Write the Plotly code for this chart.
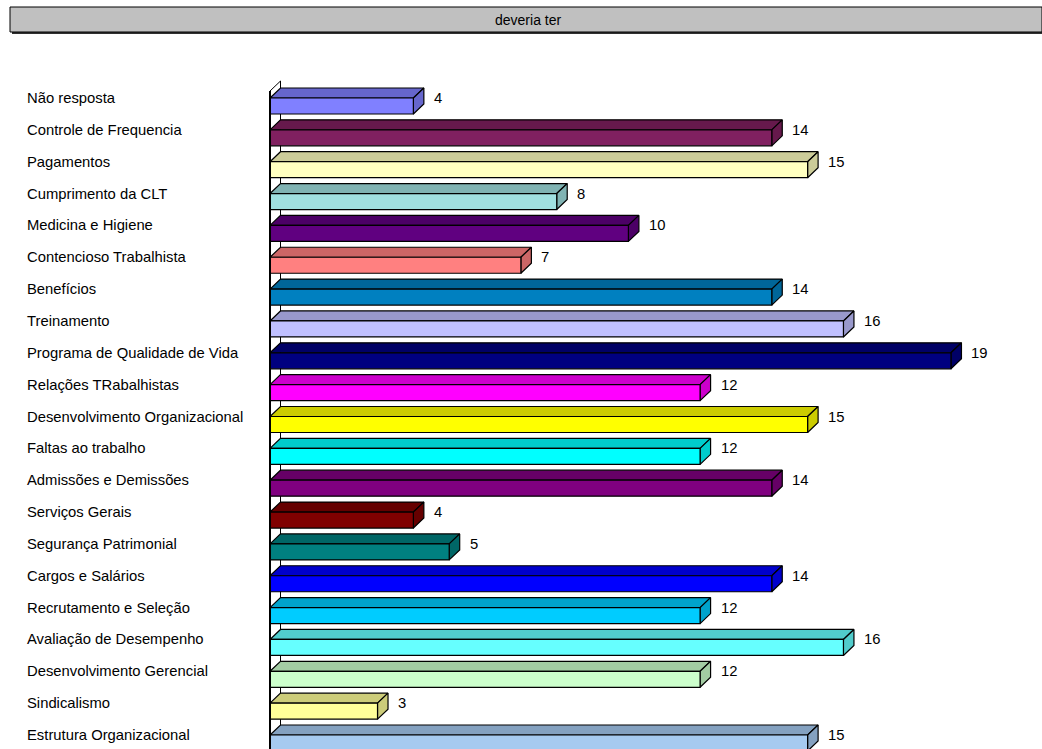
import plotly.graph_objects as go

# Category names, top to bottom
categories = [
    "Não resposta", "Controle de Frequencia", "Pagamentos", "Cumprimento da CLT",
    "Medicina e Higiene", "Contencioso Trabalhista", "Benefícios", "Treinamento",
    "Programa de Qualidade de Vida", "Relações TRabalhistas",
    "Desenvolvimento Organizacional", "Faltas ao trabalho", "Admissões e Demissões",
    "Serviços Gerais", "Segurança Patrimonial", "Cargos e Salários",
    "Recrutamento e Seleção", "Avaliação de Desempenho", "Desenvolvimento Gerencial",
    "Sindicalismo", "Estrutura Organizacional",
]
values = [4, 14, 15, 8, 10, 7, 14, 16, 19, 12, 15, 12, 14, 4, 5, 14, 12, 16, 12, 3, 15]

# Front-face colour of each bar
front_colors = [
    "#8080FF", "#802060", "#FFFFC0", "#A0E0E0", "#600080", "#FF8080", "#0080C0",
    "#C0C0FF", "#000080", "#FF00FF", "#FFFF00", "#00FFFF", "#800080", "#800000",
    "#008080", "#0000FF", "#00CCFF", "#66FFFF", "#CCFFCC", "#FFFF99", "#A6CAF0",
]

title_text = "deveria ter"

# ---- geometry / styling ----
W, H = 1042, 749
ML, MR, MT, MB = 262, 10, 70, 0
PX_PER_UNIT = 35.84      # horizontal pixels per value unit
PX_PER_ROW = 31.85       # vertical pixels per category row
ROW0_PX = 98             # pixel row of first category
FONT = "Liberation Sans, Arial, sans-serif"
LABEL_SIZE = 14.8

plot_w = W - ML - MR
plot_h = H - MT - MB
x_lo = -(270 - ML) / PX_PER_UNIT
x_hi = x_lo + plot_w / PX_PER_UNIT
y_top = (MT - ROW0_PX) / PX_PER_ROW
y_bot = (H - MB - ROW0_PX) / PX_PER_ROW

DX = 10.5 / PX_PER_UNIT   # 3D depth, horizontal
DY = 10.0 / PX_PER_ROW    # 3D depth, vertical
FH = 16.0 / PX_PER_ROW    # front face thickness


def shade(hex_color, f=0.8):
    h = hex_color.lstrip("#")
    r, g, b = (int(h[i:i + 2], 16) for i in (0, 2, 4))
    return "#%02X%02X%02X" % (int(r * f), int(g * f), int(b * f))


def poly(xs, ys, fill, lw=1.2):
    return go.Scatter(
        x=xs + [xs[0]], y=ys + [ys[0]], mode="lines", fill="toself",
        fillcolor=fill, line=dict(color="black", width=lw),
        hoverinfo="skip", showlegend=False,
    )


fig = go.Figure()

# back wall of the 3D chart
wall_front = -7.0 / PX_PER_ROW
fig.add_trace(poly([0, 0, DX, DX],
                   [y_bot + 1, wall_front, wall_front - DY, y_bot + 1], "white", 1.0))

for i, (v, c) in enumerate(zip(values, front_colors)):
    dark = shade(c)
    # top face
    fig.add_trace(poly([0, v, v + DX, DX], [i, i, i - DY, i - DY], dark))
    # side face
    fig.add_trace(poly([v, v + DX, v + DX, v], [i, i - DY, i + FH - DY, i + FH], dark))
    # front face
    fig.add_trace(poly([0, v, v, 0], [i, i, i + FH, i + FH], c))

# front edge of the wall
fig.add_trace(go.Scatter(x=[0, 0], y=[y_bot + 1, wall_front], mode="lines",
                         line=dict(color="black", width=2),
                         hoverinfo="skip", showlegend=False))

annotations = []
for i, (cat, v) in enumerate(zip(categories, values)):
    annotations.append(dict(
        x=(25 - ML) / plot_w, xref="paper", y=i, yref="y", text=cat,
        showarrow=False, xanchor="left", yanchor="middle",
        font=dict(family=FONT, size=LABEL_SIZE, color="black"),
    ))
    annotations.append(dict(
        x=v + DX + 8 / PX_PER_UNIT, xref="x", y=i, yref="y", text=str(v),
        showarrow=False, xanchor="left", yanchor="middle",
        font=dict(family=FONT, size=LABEL_SIZE, color="black"),
    ))


def px_x(p):
    return (p - ML) / plot_w


def px_y(p):
    return (H - MB - p) / plot_h


# title box with drop shadow
shapes = [
    dict(type="rect", xref="paper", yref="paper",
         x0=px_x(12), x1=px_x(1044), y0=px_y(34), y1=px_y(9),
         fillcolor="#303030", line=dict(width=0)),
    dict(type="rect", xref="paper", yref="paper",
         x0=px_x(10), x1=px_x(1042), y0=px_y(32), y1=px_y(7),
         fillcolor="#C0C0C0", line=dict(color="black", width=1)),
]
annotations.append(dict(
    x=px_x(528), xref="paper", y=px_y(20), yref="paper", text=title_text,
    showarrow=False, xanchor="center", yanchor="middle",
    font=dict(family=FONT, size=14, color="black"),
))

fig.update_layout(
    width=W, height=H,
    margin=dict(l=ML, r=MR, t=MT, b=MB, pad=0),
    paper_bgcolor="white", plot_bgcolor="white",
    xaxis=dict(range=[x_lo, x_hi], visible=False, fixedrange=True),
    yaxis=dict(range=[y_bot, y_top], visible=False, fixedrange=True),
    shapes=shapes, annotations=annotations,
    showlegend=False,
)

fig.write_html("out.html")
